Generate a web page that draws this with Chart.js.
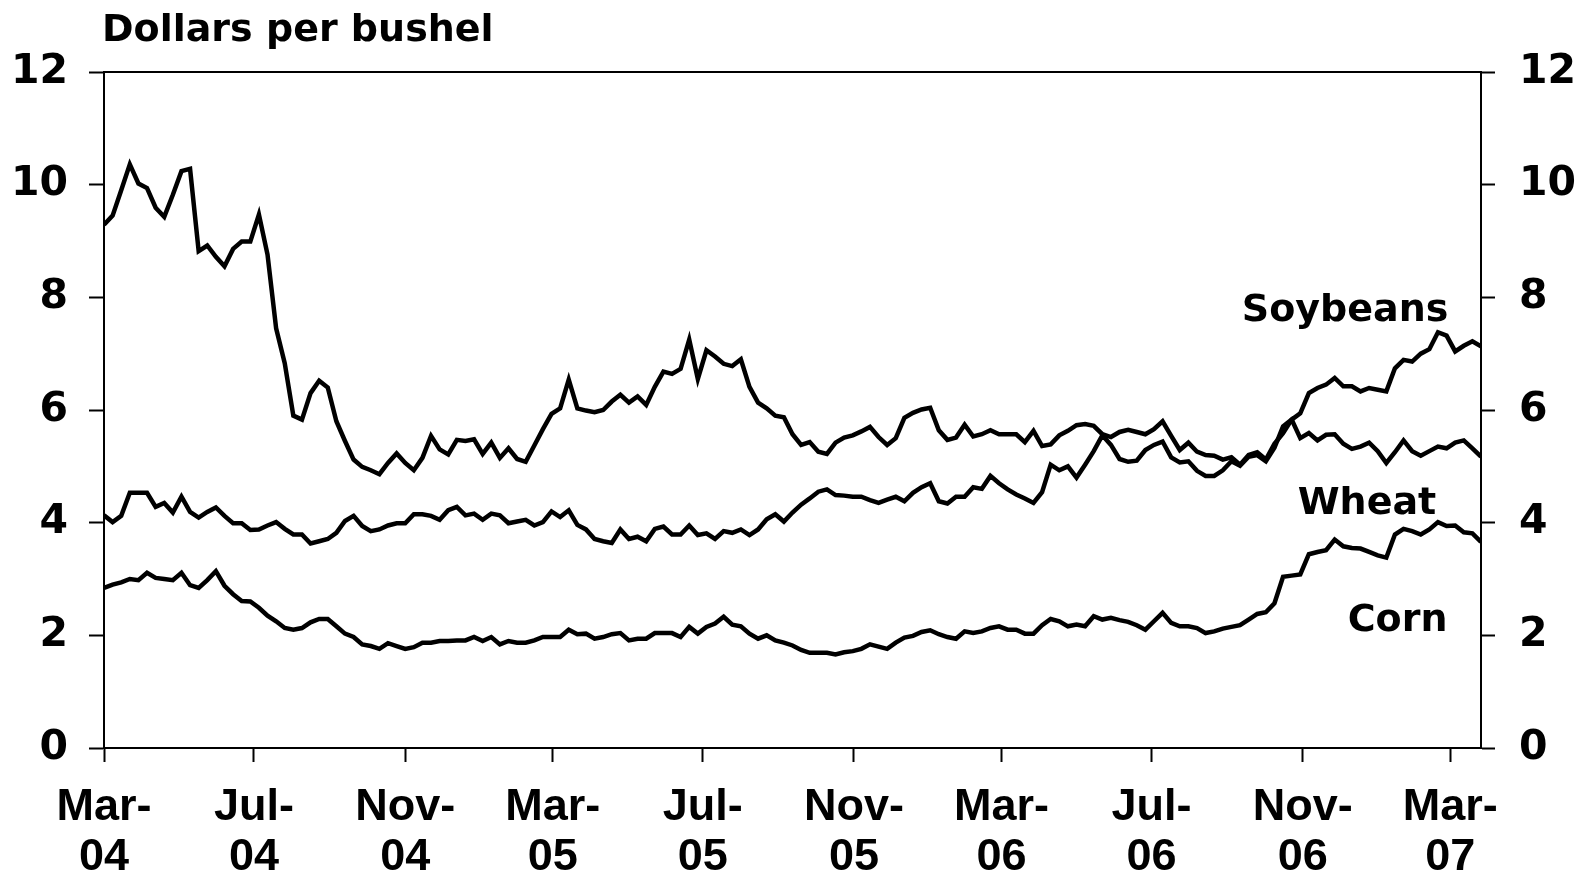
<!DOCTYPE html>
<html>
<head>
<meta charset="utf-8">
<title>Dollars per bushel</title>
<script src="https://cdn.jsdelivr.net/npm/chart.js@4.4.1/dist/chart.umd.min.js"></script>
<style>
  html, body { margin: 0; padding: 0; background: #fff; }
  #chart-wrap { width: 1591px; height: 876px; }
</style>
</head>
<body>
<div id="chart-wrap"><canvas id="grain-chart" width="1591" height="876"></canvas></div>
<script>
// Weekly prices, first week starts 1 Mar 2004
const startDate = '2004-03-01';

const soybeans = [
  9.29, 9.45, 9.90, 10.36, 10.02, 9.94, 9.59, 9.43, 9.82, 10.24,
  10.28, 8.82, 8.92, 8.72, 8.55, 8.86, 8.99, 8.99, 9.47, 8.76,
  7.45, 6.83, 5.90, 5.83, 6.30, 6.52, 6.40, 5.80, 5.45, 5.12,
  4.99, 4.93, 4.86, 5.06, 5.23, 5.06, 4.93, 5.15, 5.54, 5.30,
  5.21, 5.47, 5.45, 5.48, 5.22, 5.42, 5.15, 5.32, 5.13, 5.08,
  5.37, 5.66, 5.93, 6.03, 6.54, 6.03, 5.99, 5.96, 6.00, 6.15,
  6.27, 6.13, 6.24, 6.09, 6.41, 6.68, 6.64, 6.73, 7.25, 6.55,
  7.06, 6.95, 6.82, 6.78, 6.90, 6.41, 6.13, 6.03, 5.90, 5.87,
  5.57, 5.38, 5.43, 5.26, 5.22, 5.42, 5.51, 5.55, 5.62, 5.70,
  5.52, 5.38, 5.50, 5.86, 5.95, 6.01, 6.04, 5.64, 5.47, 5.51,
  5.74, 5.53, 5.57, 5.64, 5.57, 5.57, 5.57, 5.43, 5.63, 5.36,
  5.39, 5.55, 5.63, 5.73, 5.75, 5.72, 5.57, 5.52, 5.61, 5.65,
  5.61, 5.57, 5.66, 5.80, 5.54, 5.29, 5.42, 5.26, 5.20, 5.19,
  5.12, 5.16, 5.03, 5.20, 5.25, 5.12, 5.40, 5.59, 5.83, 5.94,
  6.30, 6.39, 6.45, 6.57, 6.42, 6.42, 6.33, 6.39, 6.36, 6.33,
  6.74, 6.89, 6.86, 7.00, 7.08, 7.38, 7.32, 7.04, 7.14, 7.22,
  7.13
];

const wheat = [
  4.13, 4.01, 4.12, 4.53, 4.53, 4.53, 4.28, 4.35, 4.18, 4.46,
  4.19, 4.09, 4.19, 4.27, 4.12, 3.99, 3.99, 3.87, 3.88, 3.95,
  4.01, 3.89, 3.79, 3.79, 3.63, 3.67, 3.71, 3.82, 4.03, 4.12,
  3.94, 3.85, 3.88, 3.95, 3.99, 3.99, 4.15, 4.15, 4.12, 4.05,
  4.22, 4.28, 4.13, 4.16, 4.05, 4.16, 4.13, 3.99, 4.02, 4.05,
  3.95, 4.01, 4.20, 4.10, 4.22, 3.96, 3.88, 3.71, 3.67, 3.64,
  3.88, 3.71, 3.75, 3.67, 3.89, 3.93, 3.79, 3.79, 3.95, 3.78,
  3.81, 3.71, 3.85, 3.82, 3.88, 3.78, 3.88, 4.06, 4.15, 4.02,
  4.18, 4.32, 4.43, 4.55, 4.59, 4.49, 4.48, 4.46, 4.46, 4.40,
  4.35, 4.41, 4.46, 4.38, 4.53, 4.63, 4.70, 4.38, 4.34, 4.46,
  4.46, 4.63, 4.60, 4.83, 4.70, 4.59, 4.50, 4.43, 4.35, 4.54,
  5.03, 4.93, 5.00, 4.80, 5.03, 5.27, 5.55, 5.38, 5.13, 5.08,
  5.10, 5.29, 5.38, 5.44, 5.16, 5.07, 5.09, 4.92, 4.83, 4.83,
  4.93, 5.09, 5.01, 5.17, 5.20, 5.09, 5.33, 5.71, 5.83, 5.50,
  5.59, 5.46, 5.56, 5.57, 5.40, 5.31, 5.35, 5.42, 5.27, 5.06,
  5.25, 5.46, 5.27, 5.19, 5.27, 5.35, 5.32, 5.42, 5.46, 5.32,
  5.17
];

const corn = [
  2.84, 2.90, 2.94, 3.00, 2.98, 3.11, 3.02, 3.00, 2.98, 3.11,
  2.89, 2.84, 2.98, 3.14, 2.88, 2.73, 2.61, 2.60, 2.49, 2.35,
  2.25, 2.13, 2.10, 2.13, 2.23, 2.29, 2.29, 2.16, 2.03, 1.97,
  1.84, 1.81, 1.76, 1.86, 1.81, 1.76, 1.79, 1.87, 1.87, 1.90,
  1.90, 1.91, 1.91, 1.97, 1.90, 1.97, 1.84, 1.90, 1.87, 1.87,
  1.91, 1.97, 1.97, 1.97, 2.10, 2.02, 2.03, 1.94, 1.97, 2.02,
  2.04, 1.91, 1.94, 1.94, 2.04, 2.04, 2.04, 1.97, 2.15, 2.03,
  2.15, 2.21, 2.33, 2.19, 2.16, 2.03, 1.94, 2.00, 1.91, 1.87,
  1.82, 1.74, 1.69, 1.69, 1.69, 1.66, 1.70, 1.72, 1.76, 1.84,
  1.80, 1.76, 1.87, 1.96, 1.99, 2.06, 2.09, 2.02, 1.97, 1.94,
  2.07, 2.04, 2.07, 2.13, 2.16, 2.10, 2.10, 2.03, 2.03, 2.18,
  2.29, 2.25, 2.16, 2.19, 2.16, 2.34, 2.28, 2.31, 2.27, 2.24,
  2.18, 2.10, 2.25, 2.40, 2.22, 2.16, 2.16, 2.13, 2.04, 2.07,
  2.12, 2.15, 2.18, 2.28, 2.38, 2.41, 2.57, 3.04, 3.06, 3.08,
  3.44, 3.48, 3.51, 3.70, 3.58, 3.55, 3.54, 3.48, 3.42, 3.38,
  3.79, 3.89, 3.85, 3.79, 3.88, 4.01, 3.94, 3.95, 3.83, 3.81,
  3.66
];

const tickDates = ['2004-03-01', '2004-07-01', '2004-11-01', '2005-03-01', '2005-07-01',
                   '2005-11-01', '2006-03-01', '2006-07-01', '2006-11-01', '2007-03-01'];
const tickLabels = [['Mar-', '04'], ['Jul-', '04'], ['Nov-', '04'], ['Mar-', '05'], ['Jul-', '05'],
                    ['Nov-', '05'], ['Mar-', '06'], ['Jul-', '06'], ['Nov-', '06'], ['Mar-', '07']];
const yTicks = [0, 2, 4, 6, 8, 10, 12];
const seriesNames = ['Soybeans', 'Wheat', 'Corn'];

function daysFrom(d) {
    return Math.round((Date.parse(d) - Date.parse(startDate)) / 86400000);
}

// weekly series -> {x: days since start, y: price}
function toPoints(values) {
    return values.map((v, i) => ({ x: i * 7, y: v }));
}

const yFont = { family: 'DejaVu Sans', size: 41, weight: 'bold' };

function priceAxis(position, tickLen, pad, width) {
    return {
        position: position,
        min: 0,
        max: 12,
        afterBuildTicks: s => { s.ticks = yTicks.map(v => ({ value: v })); },
        ticks: { font: yFont, color: '#000', padding: pad },
        grid: { drawOnChartArea: false, drawTicks: true, tickLength: tickLen, tickWidth: 2, tickColor: '#000' },
        border: { display: true, color: '#000', width: 2 },
        afterFit: s => { s.width = width; }
    };
}

// title, top edge of the frame and the series names
const annotatePlugin = {
    id: 'annotate',
    afterDraw(chart) {
        const { ctx, chartArea, scales } = chart;
        ctx.save();
        ctx.strokeStyle = '#000';
        ctx.lineWidth = 2;
        ctx.beginPath();
        ctx.moveTo(chartArea.left, chartArea.top);
        ctx.lineTo(chartArea.right + 1, chartArea.top);
        ctx.stroke();

        ctx.fillStyle = '#000';
        ctx.textBaseline = 'middle';
        ctx.textAlign = 'left';
        ctx.font = 'bold 38px "DejaVu Sans"';
        ctx.fillText('Dollars per bushel', chartArea.left - 2, 31);

        // week index and price at the right end of each name
        const spots = [[156.2, 7.76], [154.8, 4.33], [156.1, 2.26]];
        ctx.textAlign = 'right';
        ctx.font = 'bold 38px "DejaVu Sans"';
        seriesNames.forEach((name, k) => {
            const x = scales.x.getPixelForValue(spots[k][0] * 7);
            const y = scales.y.getPixelForValue(spots[k][1]);
            ctx.fillText(name, x, y);
        });
        ctx.restore();
    }
};

const lineStyle = { borderColor: '#000', borderWidth: 4.5, pointRadius: 0, tension: 0, fill: false };

const chart = new Chart(document.getElementById('grain-chart'), {
    type: 'line',
    data: {
        datasets: [
            Object.assign({ label: seriesNames[0], data: toPoints(soybeans), yAxisID: 'y' }, lineStyle),
            Object.assign({ label: seriesNames[1], data: toPoints(wheat), yAxisID: 'y' }, lineStyle),
            Object.assign({ label: seriesNames[2], data: toPoints(corn), yAxisID: 'y' }, lineStyle)
        ]
    },
    options: {
        responsive: false,
        animation: false,
        layout: { padding: { top: 72, left: 0, right: 0, bottom: 0 } },
        plugins: { legend: { display: false }, tooltip: { enabled: false }, title: { display: false } },
        scales: {
            x: {
                type: 'linear',
                position: 'bottom',
                min: 0,
                max: (soybeans.length - 1) * 7,
                afterBuildTicks: s => { s.ticks = tickDates.map(d => ({ value: daysFrom(d) })); },
                ticks: {
                    callback: (v, i) => tickLabels[i],
                    font: { family: '"Liberation Sans Narrow", "Liberation Sans", Arial, sans-serif', size: 45, weight: 'bold', lineHeight: 1.12 },
                    color: '#000',
                    padding: 20,
                    maxRotation: 0,
                    autoSkip: false
                },
                grid: { drawOnChartArea: false, drawTicks: true, tickLength: 14, tickWidth: 2, tickColor: '#000' },
                border: { display: true, color: '#000', width: 2 },
                afterFit: s => { s.height = 128; }
            },
            y: priceAxis('left', 15, 21, 104),
            y2: priceAxis('right', 14, 24, 110)
        }
    },
    plugins: [annotatePlugin]
});
</script>
</body>
</html>
